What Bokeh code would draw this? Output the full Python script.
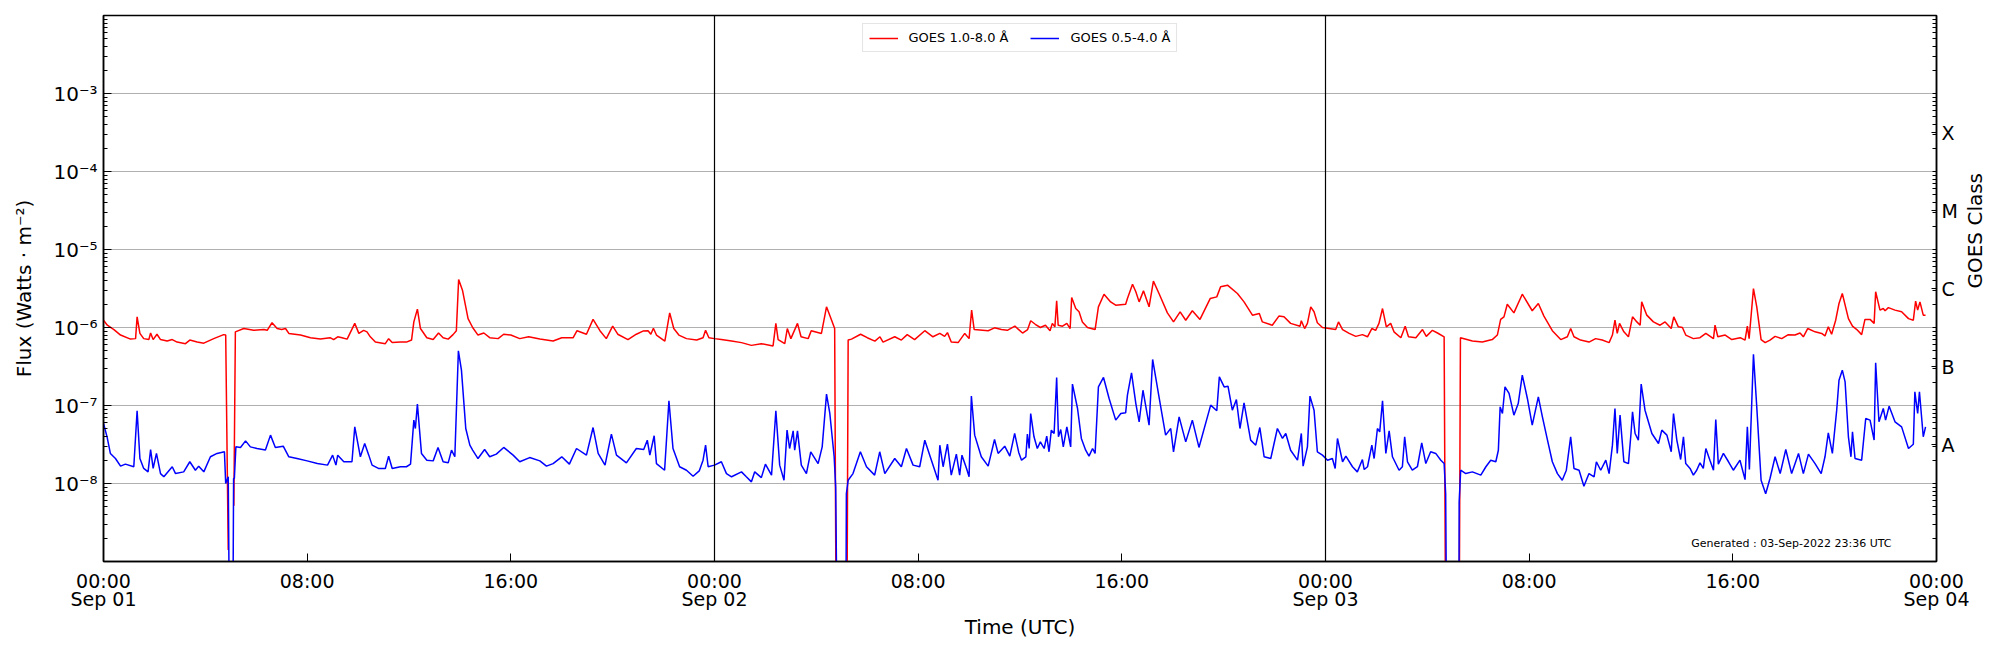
import math
import numpy as np
from bokeh.plotting import figure
from bokeh.models import (Range1d, LogAxis, LogScale, FixedTicker, Span, Legend,
                          LegendItem, Label)
from bokeh.embed import file_html
from bokeh.resources import INLINE

FONT = "DejaVu Sans"
NAN = float("nan")

# ---------------- data (hours since 2022-09-01 00:00 UTC) ----------------
red_hours = [
    0.00, 0.15, 0.41, 0.67, 1.06, 1.26, 1.32, 1.43, 1.58, 1.78, 1.85, 1.95, 2.10, 2.24, 2.50, 2.70,
    2.89, 3.22, 3.39, 3.68, 3.94, 4.33, 4.72, 4.80, 4.90, 4.95, 5.12, 5.18, 5.51, 5.90, 6.30, 6.43,
    6.62, 6.82, 7.00, 7.15, 7.28, 7.74, 8.13, 8.52, 8.90, 9.04, 9.20, 9.37, 9.57, 9.87, 10.03, 10.22,
    10.35, 10.48, 10.68, 11.07, 11.20, 11.34, 11.66, 11.90, 12.10, 12.19, 12.33, 12.45, 12.70, 12.95,
    13.16, 13.34, 13.54, 13.73, 13.86, 13.95, 14.10, 14.32, 14.50, 14.71, 14.94, 15.17, 15.50, 15.72,
    16.00, 16.35, 16.70, 17.14, 17.66, 18.00, 18.45, 18.60, 18.97, 19.23, 19.50, 19.75, 20.00, 20.20,
    20.60, 20.93, 21.19, 21.39, 21.50, 21.60, 21.72, 22.05, 22.24, 22.40, 22.60, 22.90, 23.30, 23.55,
    23.65, 23.78, 24.00, 24.27, 24.67, 25.06, 25.45, 25.84, 26.30, 26.41, 26.50, 26.76, 26.86, 27.00,
    27.26, 27.40, 27.68, 27.80, 28.20, 28.40, 28.60, 28.72, 28.78, 29.20, 29.25, 29.38, 29.74, 30.00,
    30.30, 30.50, 30.62, 31.08, 31.34, 31.57, 31.86, 32.26, 32.58, 32.85, 33.04, 33.15, 33.30, 33.57,
    33.83, 34.00, 34.10, 34.20, 34.75, 35.00, 35.27, 35.50, 35.80, 35.95, 36.10, 36.30, 36.42, 36.60,
    36.80, 37.00, 37.18, 37.27, 37.37, 37.44, 37.50, 37.67, 37.84, 37.97, 38.03, 38.19, 38.32, 38.45,
    38.65, 38.95, 39.08, 39.30, 39.56, 39.76, 40.15, 40.22, 40.42, 40.55, 40.68, 40.85, 41.07, 41.24,
    41.46, 41.79, 42.03, 42.29, 42.51, 42.77, 43.07, 43.47, 43.73, 43.88, 44.15, 44.54, 44.80, 45.13,
    45.40, 45.52, 45.91, 46.17, 46.37, 46.63, 47.00, 47.05, 47.18, 47.29, 47.42, 47.55, 47.68, 47.88,
    48.14, 48.40, 48.51, 48.67, 48.93, 49.19, 49.45, 49.65, 49.82, 49.97, 50.10, 50.24, 50.39, 50.56,
    50.69, 50.96, 51.13, 51.26, 51.55, 51.81, 51.96, 52.20, 52.40, 52.66, 52.72, 53.25, 53.30, 53.77,
    54.16, 54.55, 54.75, 54.88, 55.01, 55.14, 55.40, 55.73, 56.12, 56.36, 56.58, 56.91, 57.24, 57.50,
    57.63, 57.76, 58.02, 58.35, 58.61, 58.87, 59.14, 59.27, 59.37, 59.46, 59.55, 59.72, 59.90, 60.06,
    60.23, 60.36, 60.42, 60.62, 60.88, 61.14, 61.34, 61.58, 61.68, 61.86, 62.02, 62.15, 62.45, 62.71,
    62.94, 63.24, 63.30, 63.41, 63.70, 63.96, 64.29, 64.48, 64.57, 64.64, 64.81, 64.94, 65.11, 65.27,
    65.46, 65.66, 65.92, 66.18, 66.44, 66.64, 66.77, 66.94, 67.23, 67.49, 67.62, 67.75, 67.88, 68.04,
    68.17, 68.30, 68.54, 68.70, 68.87, 69.06, 69.19, 69.39, 69.55, 69.61, 69.78, 69.91, 69.98, 70.11,
    70.37, 70.63, 70.90, 71.09, 71.18, 71.26, 71.35, 71.48, 71.57,
]
# GOES 1.0-8.0 A flux in units of 1e-6 W m^-2 (NaN = data gap)
red_flux = [
    1.24, 1.07, 0.94, 0.80, 0.71, 0.72, 1.37, 0.84, 0.72, 0.70, 0.85, 0.70, 0.82, 0.70, 0.67, 0.70,
    0.65, 0.62, 0.69, 0.65, 0.63, 0.72, 0.81, 0.80, 0.0014, NAN, 0.0052, 0.88, 0.97, 0.92, 0.94, 0.92,
    1.15, 0.97, 0.94, 0.97, 0.84, 0.80, 0.74, 0.71, 0.74, 0.70, 0.76, 0.74, 0.71, 1.13, 0.84, 0.92,
    0.88, 0.76, 0.65, 0.62, 0.72, 0.64, 0.65, 0.65, 0.69, 1.18, 1.72, 0.97, 0.74, 0.70,
    0.85, 0.74, 0.71, 0.81, 0.91, 4.12, 3.01, 1.30, 1.00, 0.80, 0.85, 0.74, 0.72, 0.82,
    0.80, 0.72, 0.76, 0.71, 0.67, 0.74, 0.74, 0.91, 0.82, 1.27, 0.91, 0.72, 1.04, 0.82,
    0.70, 0.82, 0.90, 0.91, 0.82, 0.98, 0.80, 0.67, 1.54, 0.97, 0.80, 0.72, 0.69, 0.74,
    0.92, 0.74, 0.72, 0.70, 0.67, 0.64, 0.59, 0.62, 0.58, 1.13, 0.70, 0.62, 0.97, 0.72,
    1.13, 0.76, 0.72, 0.91, 0.84, 1.84, 1.24, 0.97, 0.0001, 0.0001, 0.69, 0.71, 0.82, 0.74,
    0.67, 0.76, 0.65, 0.76, 0.69, 0.81, 0.70, 0.91, 0.76, 0.84, 0.77, 0.86, 0.65, 0.64,
    0.84, 0.72, 1.67, 0.94, 0.91, 0.99, 0.94, 0.92, 1.04, 0.94, 0.85, 0.94, 1.22, 1.10,
    1.00, 1.07, 0.91, 1.13, 1.02, 2.20, 1.07, 1.04, 1.13, 0.97, 2.42, 1.75, 1.59, 1.18,
    1.00, 0.94, 1.84, 2.67, 2.13, 1.93, 1.99, 2.35, 3.59, 2.87, 2.13, 2.95, 1.84, 3.93,
    2.73, 1.54, 1.18, 1.59, 1.24, 1.64, 1.27, 2.35, 2.47, 3.32, 3.49, 2.73, 2.13, 1.44,
    1.51, 1.18, 1.07, 1.40, 1.37, 1.13, 1.04, 1.22, 0.97, 1.13, 1.84, 1.59, 1.15, 1.00,
    0.97, 0.94, 1.18, 0.94, 0.84, 0.77, 0.81, 0.76, 0.97, 0.92, 1.13, 1.75, 1.02, 1.13,
    0.88, 0.74, 1.04, 0.76, 0.74, 0.94, 0.77, 0.92, 0.85, 0.76, 0.0001, 0.0001, 0.74, 0.67,
    0.65, 0.70, 0.80, 1.27, 1.37, 1.99, 1.54, 2.67, 1.64, 2.03, 1.40, 0.91, 0.70, 0.76,
    0.97, 0.76, 0.69, 0.65, 0.72, 0.69, 0.64, 0.80, 1.24, 0.84, 1.13, 0.88, 0.76, 1.37,
    1.18, 1.07, 2.13, 1.44, 1.18, 1.07, 1.18, 0.97, 1.37, 1.02, 1.00, 0.80, 0.72, 0.74,
    0.84, 0.72, 1.07, 0.76, 0.80, 0.70, 0.74, 0.69, 1.04, 0.72, 3.16, 1.84, 0.70, 0.64,
    0.69, 0.77, 0.72, 0.81, 0.80, 0.85, 0.76, 0.97, 0.88, 0.84, 0.78, 1.02, 0.82, 1.24,
    2.03, 2.73, 1.30, 1.04, 0.94, 0.81, 1.27, 1.27, 1.13, 2.87, 1.67, 1.75, 1.64, 1.80,
    1.67, 1.59, 1.30, 1.24, 2.18, 1.67, 2.13, 1.44, 1.44,
]

blue_hours = [
    0.00, 0.14, 0.27, 0.47, 0.67, 0.86, 1.19, 1.32, 1.43, 1.58, 1.75, 1.85, 1.95, 2.08, 2.24, 2.37,
    2.70, 2.83, 3.15, 3.39, 3.61, 3.74, 3.94, 4.20, 4.46, 4.75, 4.80, 4.90, 4.95, 5.08, 5.11, 5.14,
    5.20, 5.38, 5.58, 5.77, 6.03, 6.36, 6.56, 6.75, 7.06, 7.28, 7.60, 8.00, 8.40, 8.80, 9.00, 9.13,
    9.20, 9.44, 9.76, 9.87, 10.09, 10.26, 10.42, 10.55, 10.80, 11.07, 11.20, 11.34, 11.66, 11.90,
    12.06, 12.19, 12.25, 12.33, 12.49, 12.70, 12.95, 13.14, 13.34, 13.54, 13.67, 13.80, 13.94, 14.06,
    14.23, 14.39, 14.50, 14.71, 14.97, 15.17, 15.43, 15.72, 16.09, 16.35, 16.74, 17.14, 17.40, 17.66,
    18.00, 18.30, 18.58, 18.97, 19.23, 19.43, 19.70, 19.95, 20.15, 20.54, 20.93, 21.22, 21.36, 21.46,
    21.63, 21.72, 22.04, 22.21, 22.37, 22.63, 22.90, 23.16, 23.40, 23.55, 23.65, 23.75, 24.00, 24.27,
    24.47, 24.67, 25.06, 25.25, 25.45, 25.58, 25.84, 26.00, 26.24, 26.41, 26.56, 26.73, 26.85, 26.95,
    27.09, 27.15, 27.26, 27.41, 27.61, 27.78, 28.07, 28.23, 28.40, 28.53, 28.70, 28.76, 28.82, 29.16,
    29.18, 29.25, 29.44, 29.73, 29.97, 30.29, 30.49, 30.69, 31.08, 31.34, 31.54, 31.80, 32.06, 32.26,
    32.52, 32.78, 32.85, 32.98, 33.15, 33.30, 33.50, 33.63, 33.72, 33.90, 34.00, 34.09, 34.22, 34.48,
    34.75, 35.00, 35.14, 35.40, 35.60, 35.79, 35.95, 36.06, 36.23, 36.29, 36.36, 36.42, 36.55, 36.68,
    36.80, 36.95, 37.05, 37.14, 37.23, 37.34, 37.44, 37.51, 37.60, 37.70, 37.84, 37.99, 38.06, 38.26,
    38.41, 38.58, 38.71, 38.85, 38.95, 39.08, 39.28, 39.50, 39.76, 39.96, 40.15, 40.22, 40.38, 40.55,
    40.68, 40.83, 41.07, 41.21, 41.46, 41.72, 41.92, 42.03, 42.25, 42.51, 42.77, 43.03, 43.49, 43.73,
    43.83, 44.02, 44.17, 44.34, 44.50, 44.64, 44.80, 45.06, 45.26, 45.42, 45.59, 45.85, 46.11, 46.31,
    46.44, 46.63, 46.90, 47.05, 47.12, 47.29, 47.39, 47.55, 47.68, 47.88, 48.08, 48.27, 48.38, 48.47,
    48.67, 48.80, 49.06, 49.25, 49.45, 49.52, 49.65, 49.82, 49.91, 50.04, 50.13, 50.24, 50.37, 50.50,
    50.63, 50.89, 51.02, 51.11, 51.22, 51.41, 51.61, 51.78, 51.94, 52.13, 52.33, 52.53, 52.66, 52.72,
    52.76, 53.24, 53.25, 53.31, 53.51, 53.77, 54.10, 54.30, 54.49, 54.69, 54.79, 54.86, 54.95, 55.05,
    55.21, 55.40, 55.57, 55.73, 55.93, 56.12, 56.36, 56.52, 56.72, 56.91, 57.11, 57.30, 57.46, 57.63,
    57.76, 57.96, 58.15, 58.35, 58.55, 58.64, 58.81, 59.01, 59.14, 59.27, 59.37, 59.46, 59.57, 59.72,
    59.90, 60.00, 60.06, 60.16, 60.29, 60.40, 60.55, 60.82, 61.08, 61.21, 61.41, 61.58, 61.67, 61.80,
    61.95, 62.06, 62.15, 62.32, 62.45, 62.58, 62.71, 62.84, 62.94, 63.10, 63.24, 63.33, 63.43, 63.63,
    63.83, 64.02, 64.28, 64.48, 64.57, 64.65, 64.81, 64.94, 65.11, 65.29, 65.46, 65.66, 65.86, 66.08,
    66.31, 66.58, 66.77, 66.97, 67.23, 67.47, 67.62, 67.75, 67.91, 68.08, 68.17, 68.30, 68.41, 68.54,
    68.64, 68.70, 68.80, 69.06, 69.22, 69.39, 69.55, 69.61, 69.74, 69.91, 70.00, 70.14, 70.37, 70.63,
    70.90, 71.09, 71.15, 71.26, 71.33, 71.48, 71.57,
]
# GOES 0.5-4.0 A flux in units of 1e-8 W m^-2
blue_flux = [
    5.9, 3.96, 2.43, 2.09, 1.67, 1.77, 1.64, 8.55, 2.09, 1.56, 1.41, 2.73, 1.56, 2.43, 1.34, 1.22,
    1.64, 1.34, 1.41, 1.90, 1.48, 1.67, 1.41, 2.20, 2.43, 2.55, 1.00, 1.22, 0.01, 0.01, 1.16, 1.16,
    2.95, 2.90, 3.52, 2.95, 2.81, 2.68, 4.17, 2.90, 3.01, 2.20, 2.09, 1.95, 1.80, 1.72, 2.31, 1.72,
    2.31, 1.90, 1.90, 5.32, 2.20, 3.26, 2.31, 1.72, 1.56, 1.56, 2.24, 1.56, 1.64, 1.64,
    1.77, 6.49, 5.07, 10.4, 2.43, 1.99, 1.95, 2.90, 1.90, 1.84, 2.68, 2.20, 50.2, 28.4,
    5.07, 3.10, 2.68, 2.09, 2.73, 2.20, 2.38, 2.90, 2.31, 1.90, 2.15, 1.95, 1.67, 1.80,
    2.20, 1.77, 2.81, 2.31, 5.22, 2.43, 1.72, 4.29, 2.31, 1.84, 2.81, 2.73, 3.59, 2.31,
    4.09, 1.80, 1.48, 11.5, 2.81, 1.64, 1.48, 1.24, 1.45, 1.99, 3.10, 1.64, 1.72, 1.90,
    1.34, 1.22, 1.41, 1.22, 1.05, 1.41, 1.19, 1.77, 1.28, 8.55, 1.72, 1.10, 4.83, 2.81,
    4.73, 2.68, 4.73, 1.72, 1.34, 2.55, 1.80, 2.95, 13.97, 7.9, 2.20, 0.91, 0.01, 0.01,
    0.74, 1.10, 1.34, 2.55, 1.64, 1.28, 2.55, 1.34, 2.09, 1.64, 2.81, 1.72, 1.64, 3.59,
    1.99, 1.10, 3.10, 1.64, 3.19, 1.28, 2.38, 1.28, 2.31, 1.56, 1.22, 13.2, 4.17, 2.20,
    1.67, 3.66, 2.43, 3.01, 2.24, 4.38, 2.5, 1.99, 2.20, 4.29, 2.81, 7.89, 3.97, 2.81,
    3.42, 2.81, 4.04, 2.55, 4.83, 4.38, 22.9, 3.97, 4.92, 2.95, 5.32, 2.95, 18.8, 9.16,
    3.78, 2.67, 2.24, 2.81, 2.43, 17.3, 22.9, 12.3, 6.49, 7.89, 8.05, 13.6, 26.2, 10.6,
    6.18, 15.7, 5.6, 38.9, 12.9, 4.17, 5.07, 2.55, 7.16, 3.42, 6.49, 2.90, 10.1, 8.55,
    23.3, 17.3, 17.7, 8.71, 11.9, 5.07, 10.8, 3.60, 3.10, 5.22, 2.20, 2.09, 5.07, 3.78,
    4.38, 2.67, 1.99, 4.38, 1.67, 2.95, 13.2, 8.71, 2.55, 2.31, 1.99, 2.09, 1.56, 3.78,
    1.90, 2.24, 1.64, 1.41, 2.03, 1.51, 1.64, 3.10, 2.09, 5.07, 4.59, 11.5, 2.43, 4.73,
    2.20, 1.48, 1.64, 3.97, 1.90, 1.48, 1.64, 3.32, 1.80, 2.55, 2.43, 1.99, 1.80, 0.74,
    0.01, 0.01, 0.58, 1.48, 1.34, 1.41, 1.28, 1.64, 1.99, 1.90, 2.67, 9.6, 7.89, 17.3,
    14.3, 7.52, 10.6, 24.5, 12.3, 5.6, 12.9, 7.16, 3.60, 1.90, 1.34, 1.10, 1.48, 3.97,
    1.56, 1.48, 0.92, 1.34, 1.22, 1.90, 1.48, 1.99, 1.34, 3.10, 9.16, 2.43, 7.52, 1.90,
    1.80, 4.38, 8.3, 4.38, 3.60, 18.8, 8.71, 4.38, 3.26, 4.83, 4.17, 2.55, 7.89, 3.60,
    2.03, 3.97, 1.80, 1.56, 1.28, 1.48, 1.84, 1.56, 2.81, 1.99, 1.48, 6.62, 1.77, 2.43,
    1.90, 1.48, 1.99, 1.12, 5.32, 1.51, 45.5, 9.6, 1.10, 0.74, 1.16, 2.20, 1.34, 2.73,
    1.34, 2.43, 1.34, 2.38, 1.80, 1.34, 2.20, 4.47, 2.43, 8.71, 21.1, 28.4, 20.1, 3.97,
    2.20, 4.59, 2.09, 1.99, 6.81, 6.49, 3.60, 35.2, 6.18, 9.16, 6.49, 9.80, 6.18, 5.32,
    2.81, 3.19, 15.0, 7.89, 15.0, 3.97, 5.32,
]

x_tick_hours = [0, 8, 16, 24, 32, 40, 48, 56, 64, 72]
x_tick_labels = ["00:00\nSep 01", "08:00", "16:00", "00:00\nSep 02", "08:00", "16:00",
                 "00:00\nSep 03", "08:00", "16:00", "00:00\nSep 04"]
y_tick_exponents = [-8, -7, -6, -5, -4, -3]
y_tick_labels = ["10\u207b\u2078", "10\u207b\u2077", "10\u207b\u2076", "10\u207b\u2075",
                 "10\u207b\u2074", "10\u207b\u00b3"]
goes_classes = ["A", "B", "C", "M", "X"]
goes_class_exponents = [-7.5, -6.5, -5.5, -4.5, -3.5]
day_boundaries = [24, 48]
series_labels = ["GOES 1.0-8.0 \u00c5", "GOES 0.5-4.0 \u00c5"]
generated_text = "Generated : 03-Sep-2022 23:36 UTC"

# ---------------- figure ----------------
red_y = np.array(red_flux, dtype=float) * 1e-6
blue_y = np.array(blue_flux, dtype=float) * 1e-8

Y0, Y1 = 1e-9, 1e-2
p = figure(frame_width=1833, frame_height=546, x_range=Range1d(0, 72),
           y_range=Range1d(Y0, Y1), y_axis_type="log", title=None,
           output_backend="svg", toolbar_location=None,
           min_border_left=103, min_border_right=56, min_border_top=15, min_border_bottom=81)
p.background_fill_color = "white"
p.border_fill_color = "white"
p.outline_line_color = "black"
p.outline_line_width = 1.5

decades = [10.0 ** e for e in y_tick_exponents]
minor = [k * 10.0 ** e for e in range(-9, -2) for k in range(2, 10)]

p.xgrid.visible = False
p.ygrid.ticker = FixedTicker(ticks=decades)
p.ygrid.grid_line_color = "#b0b0b0"
p.ygrid.grid_line_width = 1

r1 = p.line(red_hours, red_y, line_color="#ff0000", line_width=1.5)
r2 = p.line(blue_hours, blue_y, line_color="#0000ff", line_width=1.5)

for h in day_boundaries:
    p.add_layout(Span(location=h, dimension="height", line_color="black", line_width=1.2))


def style_axis(ax):
    ax.axis_line_color = "black"
    ax.axis_line_width = 1.5
    ax.major_tick_line_color = "black"
    ax.minor_tick_line_color = "black"
    ax.major_tick_out = 0
    ax.minor_tick_out = 0
    ax.major_tick_in = 8
    ax.minor_tick_in = 4
    ax.major_label_text_font = FONT
    ax.major_label_text_font_size = "19px"
    ax.major_label_text_color = "black"
    ax.axis_label_text_font = FONT
    ax.axis_label_text_font_size = "20px"
    ax.axis_label_text_font_style = "normal"
    ax.axis_label_text_color = "black"


yax = p.yaxis[0]
yax.ticker = FixedTicker(ticks=decades, minor_ticks=minor)
yax.major_label_overrides = {d: lab for d, lab in zip(decades, y_tick_labels)}
style_axis(yax)
yax.major_label_text_font_size = "20px"
yax.major_label_standoff = 6
yax.axis_label = "Flux (Watts \u00b7 m\u207b\u00b2)"
yax.axis_label_standoff = 14

xax = p.xaxis[0]
xax.ticker = FixedTicker(ticks=x_tick_hours, minor_ticks=[])
xax.major_label_overrides = {h: lab for h, lab in zip(x_tick_hours, x_tick_labels)}
style_axis(xax)
xax.major_label_text_line_height = 0.85
xax.major_label_standoff = 8
xax.axis_label = "Time (UTC)"
xax.axis_label_standoff = 2

p.extra_y_ranges = {"cls": Range1d(Y0, Y1)}
p.extra_y_scales = {"cls": LogScale()}
centers = [10.0 ** e for e in goes_class_exponents]
rax = LogAxis(y_range_name="cls",
              ticker=FixedTicker(ticks=centers, minor_ticks=minor + decades))
style_axis(rax)
rax.major_tick_in = 5
rax.major_label_overrides = {c: lab for c, lab in zip(centers, goes_classes)}
rax.major_label_standoff = 5
rax.axis_label = "GOES Class"
rax.axis_label_standoff = 14
rax.axis_label_orientation = math.pi / 2
p.add_layout(rax, "right")

legend = Legend(items=[LegendItem(label=series_labels[0], renderers=[r1]),
                       LegendItem(label=series_labels[1], renderers=[r2])],
                location="top_center", orientation="horizontal",
                label_text_font=FONT, label_text_font_size="13px", label_text_color="black",
                glyph_width=29, glyph_height=14, label_standoff=11, spacing=22,
                padding=6, margin=8, border_line_color="#cccccc", border_line_width=1,
                background_fill_color="white", background_fill_alpha=0.85)
p.add_layout(legend, "center")

p.add_layout(Label(x=70.23, y=1.7e-9, text=generated_text, text_align="right",
                   text_baseline="alphabetic", text_font=FONT, text_font_size="11px",
                   text_color="black"))

open("out.html", "w").write(file_html(p, INLINE))
